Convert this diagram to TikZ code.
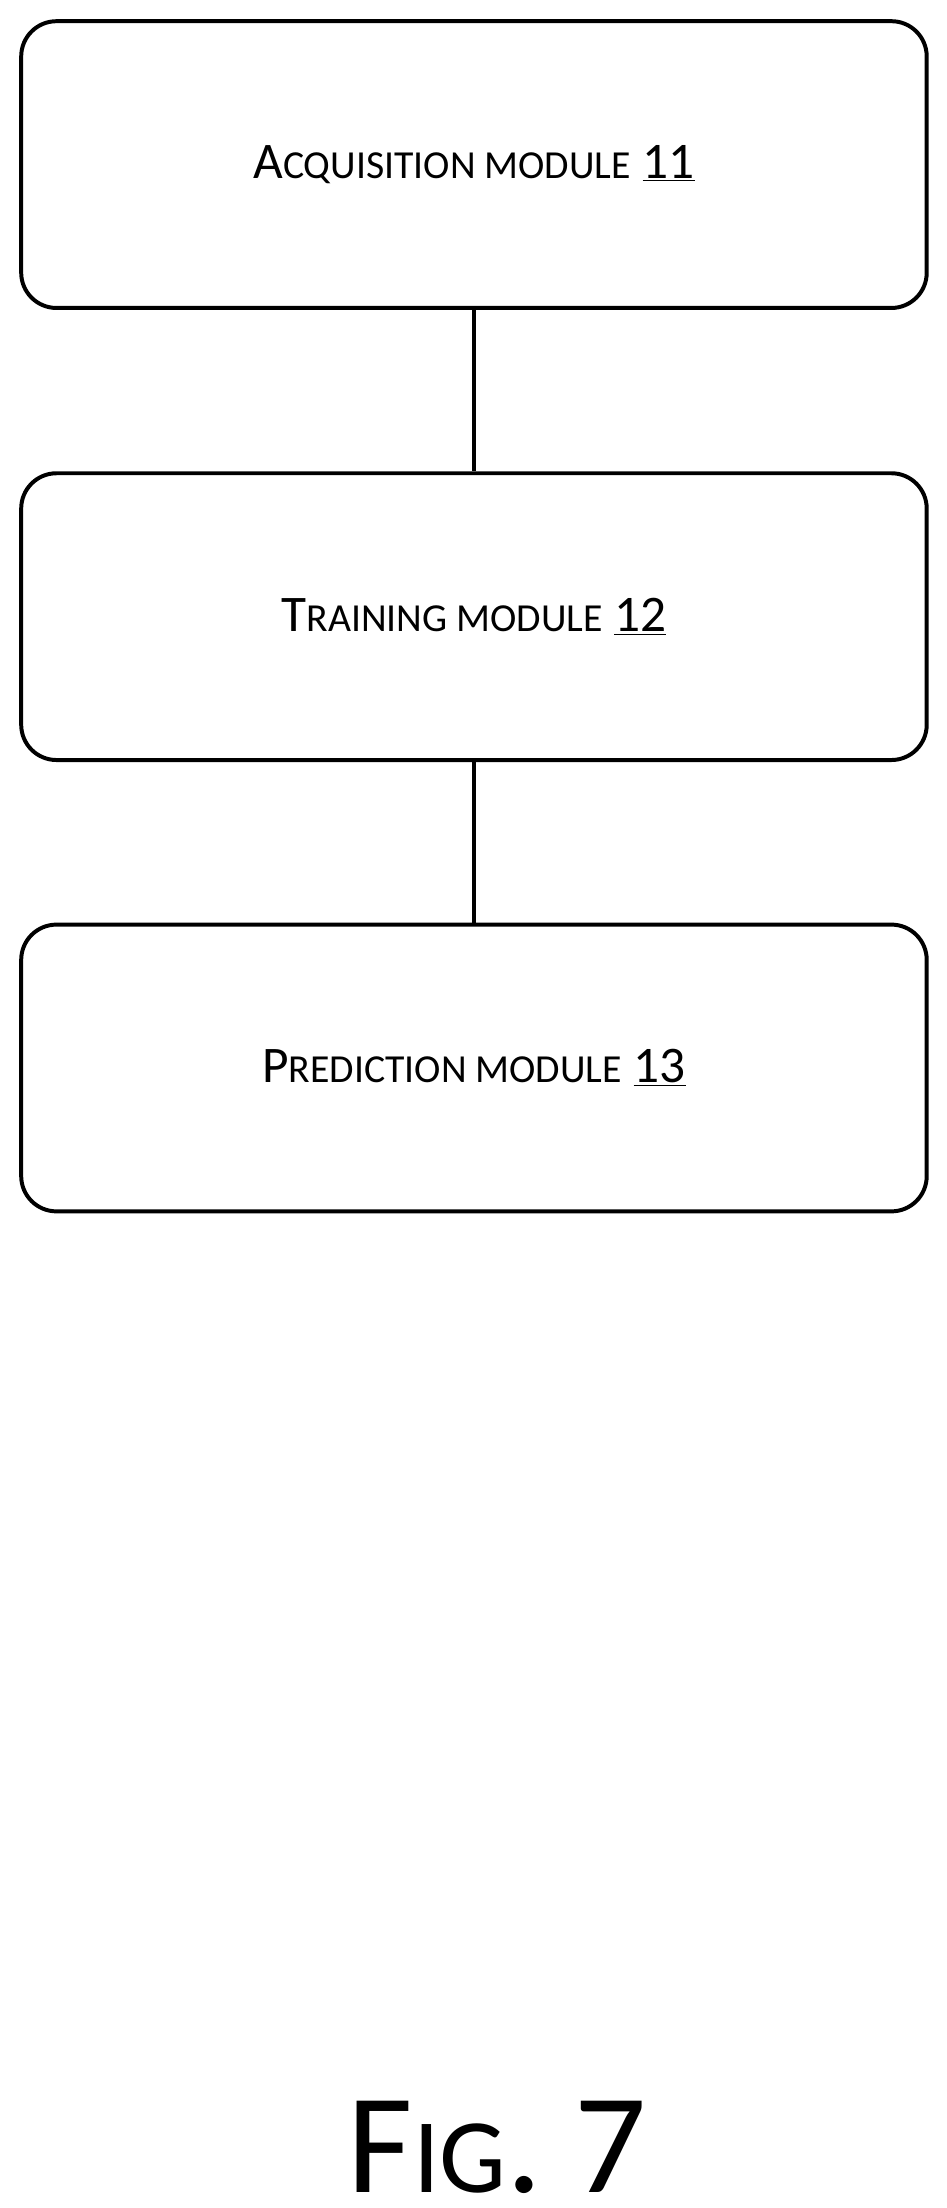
\documentclass[tikz,border=0pt]{standalone}
\usepackage{fontspec}
\setmainfont{Carlito}
\newcommand{\bigc}[1]{{\fontsize{31pt}{36pt}\selectfont #1}}
\newcommand{\smlc}[1]{{\fontsize{24pt}{28pt}\selectfont #1}}
\begin{document}
\begin{tikzpicture}[x=0.03cm,y=-0.03cm,
  box/.style={draw,line width=2.4pt,rounded corners=0.75cm,minimum width=641*0.03cm,minimum height=203*0.03cm,inner sep=0pt},
  conn/.style={line width=2.4pt}]
\useasboundingbox (0,0) rectangle (670,1563);
\node[box] (a) at (335.5,116.5) {\bigc{A}\smlc{CQUISITION MODULE}\bigc{\ \underline{11}}};
\node[box] (b) at (335.5,436.5) {\bigc{T}\smlc{RAINING MODULE}\bigc{\ \underline{12}}};
\node[box] (c) at (335.5,756) {\bigc{P}\smlc{REDICTION MODULE}\bigc{\ \underline{13}}};
\draw[conn] (a) -- (b);
\draw[conn] (b) -- (c);
\node[anchor=base,inner sep=0pt] (fig) at (352,1552) {{\fontsize{86pt}{100pt}\selectfont F}{\fontsize{64pt}{76pt}\selectfont IG}{\fontsize{86pt}{100pt}\selectfont . 7}};
\end{tikzpicture}
\end{document}
